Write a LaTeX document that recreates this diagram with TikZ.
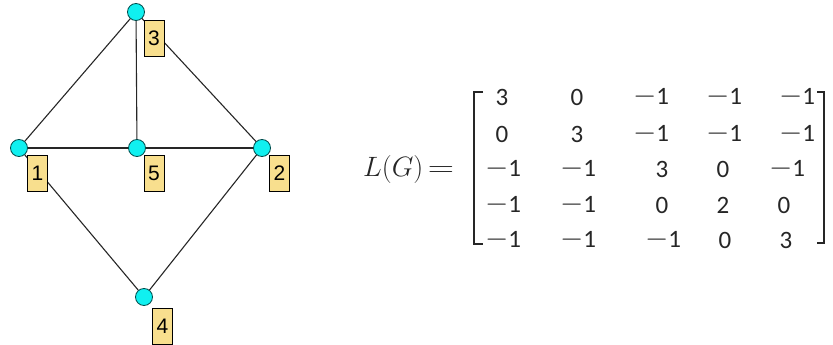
\documentclass[tikz,border=0pt]{standalone}
\usepackage{fix-cm}
\usepackage{fontspec}
\usepackage{xcolor}
\usepackage{graphicx}
\newfontfamily\etiqfont{Liberation Sans}
\newfontfamily\matfont{Carlito}
\newcommand{\FE}{\etiqfont\fontsize{21}{24}\selectfont}
\newcommand{\FM}{\matfont\fontsize{25}{30}\selectfont}
\newcommand{\FL}{\fontsize{28}{33}\selectfont}
\newcommand{\um}{\raisebox{0.03em}{\scalebox{1.2}[1.1]{$-$}}1}
\definecolor{ciano}{HTML}{10F0F0}
\definecolor{amarelo}{HTML}{F8DF8E}

\begin{document}
\begin{tikzpicture}[x=1pt,y=-1pt]
\tikzstyle{vert}=[circle,draw=teal!60!black,fill=ciano,line width=0.8pt,minimum size=17pt,inner sep=0pt]
\tikzstyle{etiq}=[draw=black,fill=amarelo,line width=0.8pt,minimum width=20pt,minimum height=36pt,inner sep=0pt,font=\FE]
\tikzstyle{line}=[black!85!white,line width=1.1pt]
\tikzstyle{texto}=[inner sep=0pt,font=\FM,black!85!white]
\tikzstyle{colchete}=[black!85!white,line width=1.8pt]

\useasboundingbox (0,0) rectangle (833,345);

% graph
\node[vert] (v1) at (19,148)  {};
\node[vert] (v2) at (262,148) {};
\node[vert] (v3) at (136,12)  {};
\node[vert] (v4) at (144,297) {};
\node[vert] (v5) at (137,148) {};

\draw[line] (v3) -- (v1);
\draw[line] (v3) -- (v5);
\draw[line] (v3) -- (v2);
\draw[line] (v1) -- (v5) -- (v2);
\draw[line] (v1) -- (v4);
\draw[line] (v2) -- (v4);

\node[etiq] (e1) at (37.5,173) {1};
\node[etiq] (e2) at (279.5,173) {2};
\node[etiq] (e3) at (154,38)  {3};
\node[etiq] (e4) at (162.5,326) {4};
\node[etiq] (e5) at (154,173) {5};

% matrix
\node[inner sep=0pt,font=\FL,anchor=west,black!85!white] (lg) at (363,169) {$L(G)\,$\scalebox{1.3}[1]{$=$}};

\draw[colchete] (483,92) -- (474,92) -- (474,244) -- (483,244);
\draw[colchete] (817,92) -- (824,92) -- (824,243) -- (817,243);

\node[texto] (m11) at (502,97)  {3};
\node[texto] (m12) at (577,97)  {0};
\node[texto] (m13) at (651,97)  {\um};
\node[texto] (m14) at (724,97)  {\um};
\node[texto] (m15) at (797,97)  {\um};

\node[texto] (m21) at (502,134) {0};
\node[texto] (m22) at (577,134) {3};
\node[texto] (m23) at (651,134) {\um};
\node[texto] (m24) at (724,134) {\um};
\node[texto] (m25) at (797,134) {\um};

\node[texto] (m31) at (503,169) {\um};
\node[texto] (m32) at (578,169) {\um};
\node[texto] (m33) at (662,169) {3};
\node[texto] (m34) at (723,169) {0};
\node[texto] (m35) at (787,169) {\um};

\node[texto] (m41) at (503,205) {\um};
\node[texto] (m42) at (578,205) {\um};
\node[texto] (m43) at (662,205) {0};
\node[texto] (m44) at (723,205) {2};
\node[texto] (m45) at (784,205) {0};

\node[texto] (m51) at (503,240) {\um};
\node[texto] (m52) at (578,240) {\um};
\node[texto] (m53) at (663,240) {\um};
\node[texto] (m54) at (725,240) {0};
\node[texto] (m55) at (786,240) {3};
\end{tikzpicture}
\end{document}
